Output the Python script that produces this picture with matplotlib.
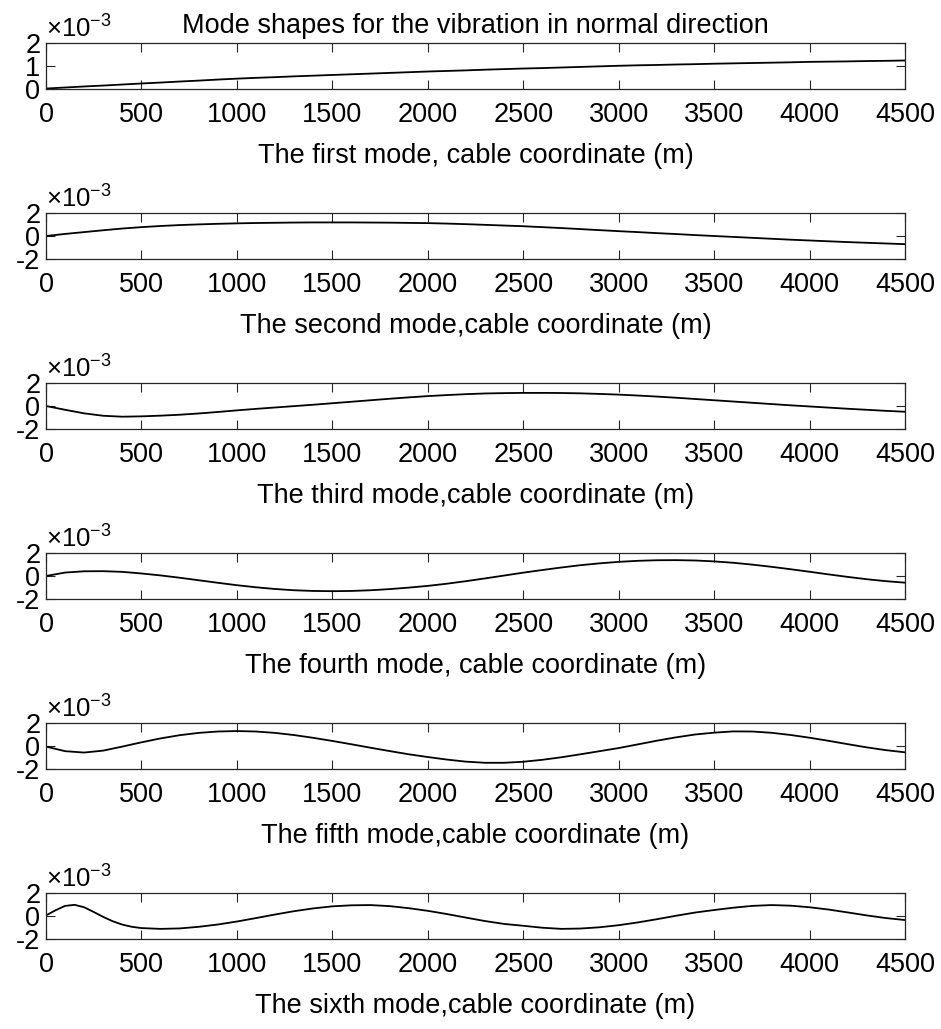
import matplotlib
matplotlib.use("Agg")
import matplotlib.pyplot as plt
import numpy as np

plt.rcParams['font.family'] = ['Liberation Sans', 'DejaVu Sans']
plt.rcParams['mathtext.fontset'] = 'custom'
plt.rcParams['mathtext.rm'] = 'Liberation Sans'
plt.rcParams['mathtext.it'] = 'Liberation Sans'
plt.rcParams['axes.unicode_minus'] = False

# ---- data (values in units of 1e-3) ----
x_common = list(range(0, 4501, 100))

mode1 = [0.02, 0.065, 0.11, 0.15, 0.195, 0.24, 0.28, 0.325, 0.365, 0.41, 0.45,
         0.485, 0.515, 0.55, 0.58, 0.61, 0.64, 0.67, 0.70, 0.73, 0.76,
         0.785, 0.81, 0.84, 0.865, 0.89, 0.91, 0.935, 0.96, 0.985, 1.01,
         1.03, 1.045, 1.065, 1.08, 1.10, 1.115, 1.13, 1.145, 1.16, 1.18,
         1.19, 1.20, 1.215, 1.225, 1.24]

mode2 = [0.00, 0.18, 0.34, 0.50, 0.65, 0.77, 0.87, 0.95, 1.01, 1.06, 1.10,
         1.13, 1.15, 1.17, 1.18, 1.18, 1.18, 1.17, 1.16, 1.14, 1.12,
         1.08, 1.03, 0.97, 0.91, 0.85, 0.77, 0.69, 0.60, 0.51, 0.42,
         0.34, 0.25, 0.17, 0.08, 0.00, -0.08, -0.16, -0.24, -0.32, -0.39,
         -0.46, -0.53, -0.59, -0.65, -0.71]

mode3 = [0.00, -0.33, -0.64, -0.85, -0.93, -0.90, -0.84, -0.76, -0.65, -0.52, -0.38,
         -0.25, -0.13, -0.01, 0.11, 0.24, 0.37, 0.50, 0.63, 0.75, 0.86,
         0.95, 1.03, 1.09, 1.12, 1.14, 1.14, 1.13, 1.10, 1.05, 0.99,
         0.91, 0.82, 0.72, 0.61, 0.50, 0.39, 0.28, 0.17, 0.06, -0.04,
         -0.14, -0.24, -0.33, -0.42, -0.50]

mode4 = [0.00, 0.30, 0.41, 0.42, 0.36, 0.22, 0.05, -0.15, -0.37, -0.59, -0.80,
         -0.98, -1.13, -1.24, -1.30, -1.32, -1.30, -1.24, -1.14, -1.01, -0.86,
         -0.67, -0.45, -0.21, 0.04, 0.29, 0.52, 0.74, 0.94, 1.10, 1.23,
         1.32, 1.37, 1.38, 1.35, 1.27, 1.15, 0.99, 0.80, 0.59, 0.37,
         0.14, -0.08, -0.28, -0.45, -0.58]

mode5 = [-0.05, -0.45, -0.57, -0.40, -0.05, 0.32, 0.66, 0.94, 1.14, 1.26, 1.30,
         1.26, 1.14, 0.95, 0.71, 0.44, 0.15, -0.15, -0.44, -0.72, -0.96,
         -1.18, -1.36, -1.46, -1.46, -1.37, -1.20, -0.98, -0.72, -0.45, -0.18,
         0.14, 0.46, 0.75, 1.00, 1.16, 1.27, 1.26, 1.15, 0.96, 0.72,
         0.45, 0.16, -0.12, -0.36, -0.55]

x_mode6 = [0, 50, 100, 150, 200, 250, 300, 350, 400, 450, 500, 600, 700, 800, 900, 1000,
           1100, 1200, 1300, 1400, 1500, 1600, 1700, 1800, 1900, 2000,
           2100, 2200, 2300, 2400, 2500, 2600, 2700, 2800, 2900, 3000,
           3100, 3200, 3300, 3400, 3500, 3600, 3700, 3800, 3900, 4000,
           4100, 4200, 4300, 4400, 4500]
mode6 = [0.05, 0.50, 0.88, 0.97, 0.76, 0.35, -0.08, -0.46, -0.75, -0.94, -1.05, -1.12, -1.08, -0.94, -0.74, -0.48,
         -0.18, 0.13, 0.42, 0.66, 0.84, 0.93, 0.95, 0.86, 0.68, 0.45,
         0.17, -0.14, -0.44, -0.69, -0.85, -1.02, -1.12, -1.09, -0.98, -0.80,
         -0.56, -0.28, 0.02, 0.30, 0.52, 0.72, 0.88, 0.95, 0.90, 0.76,
         0.56, 0.31, 0.05, -0.18, -0.35]

x_data = [x_common, x_common, x_common, x_common, x_common, x_mode6]
y_data = [mode1, mode2, mode3, mode4, mode5, mode6]

xlabels = ["The first mode, cable coordinate (m)",
           "The second mode,cable coordinate (m)",
           "The third mode,cable coordinate (m)",
           "The fourth mode, cable coordinate (m)",
           "The fifth mode,cable coordinate (m)",
           "The sixth mode,cable coordinate (m)"]
title = "Mode shapes for the vibration in normal direction"
xticks = [0, 500, 1000, 1500, 2000, 2500, 3000, 3500, 4000, 4500]
yticks_first = [0, 1, 2]
yticks_other = [-2, 0, 2]

# ---- figure ----
W, H = 941, 1029
fig = plt.figure(figsize=(W / 100, H / 100), dpi=100)
ax_left, ax_right = 46, 905
box_h = 46
fs = 19.5
dark = '#262626'

for i in range(6):
    top = 43 + 170 * i
    ax = fig.add_axes([ax_left / W, 1 - (top + box_h) / H,
                       (ax_right - ax_left) / W, box_h / H])
    ax.plot(x_data[i], y_data[i], color='black', lw=1.3)
    ax.set_xlim(0, 4500)
    if i == 0:
        ax.set_ylim(0, 2)
        ax.set_yticks(yticks_first)
    else:
        ax.set_ylim(-2, 2)
        ax.set_yticks(yticks_other)
    ax.set_xticks(xticks)
    ax.set_xticklabels([str(t) for t in xticks])
    ax.tick_params(direction='in', length=6.5, width=0.8, top=True, right=True,
                   labelsize=fs, colors=dark, labelcolor='black')
    ax.tick_params(axis='x', pad=9)
    ax.tick_params(axis='y', pad=4)
    for s in ax.spines.values():
        s.set_linewidth(0.9)
        s.set_color(dark)
    ax.set_xlabel(xlabels[i], fontsize=fs, labelpad=11)
    ax.text(0.0, 1.0, r'$\times10^{-3}$', transform=ax.transAxes,
            ha='left', va='bottom', fontsize=fs - 1)
    if i == 0:
        ax.set_title(title, fontsize=fs, pad=7)

fig.savefig("out.png", dpi=100)
